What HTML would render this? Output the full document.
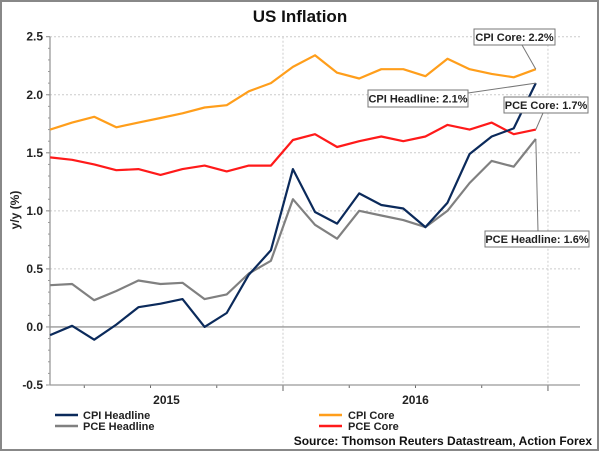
<!DOCTYPE html>
<html><head><meta charset="utf-8">
<style>
html,body{margin:0;padding:0;background:#fff;}
svg{display:block;font-family:"Liberation Sans",Arial,sans-serif;}
</style></head>
<body>
<svg id="chart" width="600" height="451" viewBox="0 0 600 451" xmlns="http://www.w3.org/2000/svg">
<rect x="1" y="1" width="597" height="449" fill="#fff" stroke="#888" stroke-width="2"/>
<text x="300" y="22" text-anchor="middle" font-size="17" font-weight="bold" fill="#111">US Inflation</text>
<g id="grid"></g>
<g id="axes"></g>
<g id="series"></g>
<g id="callouts"></g>
<text transform="translate(19,210) rotate(-90)" text-anchor="middle" font-size="12" font-weight="bold" fill="#222">y/y (%)</text>
<g>
<line x1="55" y1="415" x2="78" y2="415" stroke="#0b2a5b" stroke-width="2.5"/>
<text x="83" y="419" font-size="11" font-weight="bold" fill="#222">CPI Headline</text>
<line x1="55" y1="426" x2="78" y2="426" stroke="#808080" stroke-width="2.5"/>
<text x="83" y="430" font-size="11" font-weight="bold" fill="#222">PCE Headline</text>
<line x1="319" y1="415" x2="342" y2="415" stroke="#ff9e1b" stroke-width="2.5"/>
<text x="348" y="419" font-size="11" font-weight="bold" fill="#222">CPI Core</text>
<line x1="319" y1="426" x2="342" y2="426" stroke="#ff1a1a" stroke-width="2.5"/>
<text x="348" y="430" font-size="11" font-weight="bold" fill="#222">PCE Core</text>
</g>
<text x="592" y="445" text-anchor="end" font-size="12" font-weight="bold" fill="#111">Source: Thomson Reuters Datastream, Action Forex</text>
</svg>
<script>
const cpiHeadline=[-0.07,0.01,-0.11,0.02,0.17,0.2,0.24,0.0,0.12,0.45,0.66,1.36,0.99,0.89,1.15,1.05,1.02,0.86,1.07,1.49,1.64,1.71,2.1];
const pceHeadline=[0.36,0.37,0.23,0.31,0.4,0.37,0.38,0.24,0.28,0.46,0.57,1.1,0.88,0.76,1.0,0.96,0.92,0.86,1.0,1.24,1.43,1.38,1.62];
const cpiCore=[1.7,1.76,1.81,1.72,1.76,1.8,1.84,1.89,1.91,2.03,2.1,2.24,2.34,2.19,2.14,2.22,2.22,2.16,2.31,2.22,2.18,2.15,2.22];
const pceCore=[1.46,1.44,1.4,1.35,1.36,1.31,1.36,1.39,1.34,1.39,1.39,1.61,1.66,1.55,1.6,1.64,1.6,1.64,1.74,1.7,1.76,1.66,1.7];
const yTicks=[-0.5,0,0.5,1,1.5,2,2.5];
const yTickLabels=["-0.5","0.0","0.5","1.0","1.5","2.0","2.5"];
const yearLabels=["2015","2016"];
const calloutLabels=["CPI Core: 2.2%","CPI Headline: 2.1%","PCE Core: 1.7%","PCE Headline: 1.6%"];

const NS="http://www.w3.org/2000/svg";
const L=50,R=580,T=36.7,B=385,Y0=-0.5,Y1=2.5;
const monthW=22.08, m0=283-12*monthW;
function xMonth(m){return m0+m*monthW;}
function xIdx(i){return xMonth(i+1.45);}
function yVal(v){return B-(v-Y0)/(Y1-Y0)*(B-T);}
function mk(tag,attrs,parent){const e=document.createElementNS(NS,tag);for(const k in attrs)e.setAttribute(k,attrs[k]);parent.appendChild(e);return e;}
const grid=document.getElementById('grid'),axes=document.getElementById('axes'),series=document.getElementById('series'),call=document.getElementById('callouts');

yTicks.forEach((v,i)=>{
  const y=yVal(v);
  if(v!==0&&v!==Y0){const g=mk('line',{x1:L,x2:R,y1:y,y2:y,stroke:'#ccc','stroke-dasharray':'2,2'},grid);
  
  }
  const t=mk('text',{x:43,y:y+4,'text-anchor':'end','font-size':12,'font-weight':'bold',fill:'#222'},axes);
  t.textContent=yTickLabels[i];
  
  
  const tk=mk('line',{x1:L-4,x2:L,y1:y,y2:y,stroke:'#888'},axes);
  
  
});
for(let k=0;k<30;k++){const v=Y0+k*0.1;if(v>Y1)break;const y=yVal(v);const mt=mk('line',{x1:L-2,x2:L,y1:y,y2:y,stroke:'#999'},axes);

}
[12,24].forEach(m=>{const x=xMonth(m);const g=mk('line',{x1:x,x2:x,y1:T,y2:B,stroke:'#ccc','stroke-dasharray':'2,2'},grid);


const tk=mk('line',{x1:x,x2:x,y1:B,y2:B+6,stroke:'#666'},axes);

});
[3,6,9,15,18,21].forEach(m=>{const x=xMonth(m);const tk=mk('line',{x1:x,x2:x,y1:B,y2:B+3,stroke:'#666'},axes);

});
const zl=mk('line',{x1:L,x2:R,y1:yVal(0),y2:yVal(0),stroke:'#999','stroke-width':1.3},axes);


const ya=mk('line',{x1:L,x2:L,y1:T,y2:B,stroke:'#999','stroke-width':1.3},axes);


const xa=mk('line',{x1:L,x2:R,y1:B,y2:B,stroke:'#999','stroke-width':1.3},axes);


[[L,xMonth(12)],[xMonth(12),xMonth(24)]].forEach((r,i)=>{const t=mk('text',{x:(r[0]+r[1])/2,y:B+19,'text-anchor':'middle','font-size':12,'font-weight':'bold',fill:'#222'},axes);
t.textContent=yearLabels[i];

});

function line(data,color,name){const p=mk('polyline',{points:data.map((v,i)=>xIdx(i).toFixed(1)+','+yVal(v).toFixed(1)).join(' '),fill:'none',stroke:color,'stroke-width':2.2,'stroke-linejoin':'round'},series);

}
line(pceHeadline,'#808080','pce-headline-line');
line(cpiCore,'#ff9e1b','cpi-core-line');
line(pceCore,'#ff1a1a','pce-core-line');
line(cpiHeadline,'#0b2a5b','cpi-headline-line');

const n=cpiCore.length-1, lx=xIdx(n);
const boxes=[
 {x:474,y:29,w:81,h:16,ax:522,ay:45,v:cpiCore[n]},
 {x:368,y:90,w:100,h:17,ax:468,ay:93,v:cpiHeadline[n]},
 {x:504,y:97,w:84,h:16,ax:543,ay:113,v:pceCore[n]},
 {x:485,y:231,w:104,h:16,ax:538,ay:231,v:pceHeadline[n]}];
const cnames=['callout-cpi-core','callout-cpi-headline','callout-pce-core','callout-pce-headline'];
boxes.forEach((b,i)=>{
 const c=mk('line',{x1:b.ax,y1:b.ay,x2:lx,y2:yVal(b.v),stroke:'#777','stroke-width':1},call);
 
 
 const r=mk('rect',{x:b.x,y:b.y,width:b.w,height:b.h,fill:'#fff',stroke:'#777','stroke-width':1},call);
 
 
 const t=mk('text',{x:b.x+b.w/2,y:b.y+b.h/2+4,'text-anchor':'middle','font-size':11,'font-weight':'bold',fill:'#222'},call);
 t.textContent=calloutLabels[i];
 
 
});
</script>
</body></html>
